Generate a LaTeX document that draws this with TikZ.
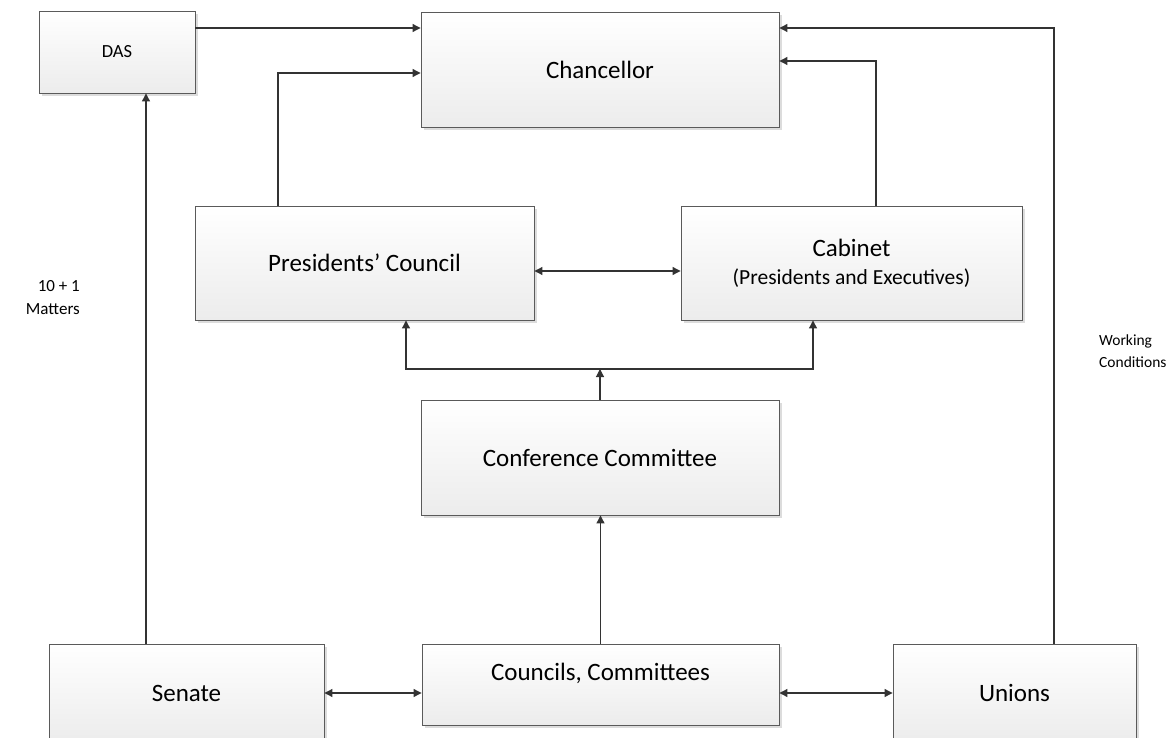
\documentclass[tikz,border=0pt]{standalone}
\usepackage{fontspec}
\setmainfont{Carlito}
\usetikzlibrary{arrows.meta,shadows}
\definecolor{boxline}{HTML}{5A5A5A}
\definecolor{arrline}{HTML}{333333}
\definecolor{boxbottom}{HTML}{ECECEC}
\definecolor{shadowcol}{HTML}{DCDCDC}
\begin{document}
\begin{tikzpicture}[x=1pt,y=-1pt,
  box/.style={draw=boxline, line width=0.9pt, top color=white, bottom color=boxbottom,
    drop shadow={shadow xshift=3pt, shadow yshift=-3pt, fill=shadowcol, opacity=1},
    inner sep=0pt, align=center, font=\fontsize{25}{30}\selectfont},
  arr/.style={draw=arrline, line width=1.1pt, -{Triangle[length=8pt,width=8pt]}},
  darr/.style={draw=arrline, line width=1.1pt, {Triangle[length=8pt,width=8pt]}-{Triangle[length=8pt,width=8pt]}},
  lbl/.style={font=\fontsize{17}{23}\selectfont, inner sep=0pt}]
\useasboundingbox (0,0) rectangle (1170,738);
% boxes
\node[box, minimum width=156pt, minimum height=82pt, font=\fontsize{18.5}{22}\selectfont] (das) at (117,52) {DAS};
\node[box, minimum width=358pt, minimum height=115pt] (chan) at (600,69.5) {Chancellor};
\node[box, minimum width=339pt, minimum height=114pt] (pc) at (364.5,263) {Presidents’ Council};
\node[box, minimum width=341pt, minimum height=114pt] (cab) at (851.5,263) {Cabinet\\[-2pt]{\fontsize{21.5}{26}\selectfont (Presidents and Executives)}};
\node[box, minimum width=358pt, minimum height=115pt] (conf) at (600,457.5) {Conference Committee};
\node[box, minimum width=357pt, minimum height=81pt, font=\fontsize{25}{25}\selectfont] (coun) at (600.5,684.5) {Councils, Committees\\\mbox{}};
\node[box, minimum width=275pt, minimum height=98pt] (sen) at (186.5,693) {Senate};
\node[box, minimum width=243pt, minimum height=98pt] (uni) at (1014.5,693) {Unions};
% labels
\node[lbl, align=right, anchor=east] (matters) at (80,298) {10 + 1\\Matters};
\node[lbl, align=left, anchor=west, font=\fontsize{15.5}{22}\selectfont] (working) at (1099,351) {Working\\Conditions};
% connectors
\coordinate (j) at (600,369);
\draw[arr] ([yshift=24pt]das.east) -- ([yshift=24pt]das.east -| chan.west);
\draw[arr] ([xshift=-86.5pt]pc.north) |- ([yshift=-3.5pt]chan.west);
\draw[arr] ([xshift=24.5pt]cab.north) |- ([yshift=8.5pt]chan.east);
\draw[arr] ([xshift=39.5pt]uni.north) |- ([yshift=41.5pt]chan.east);
\draw[arr] ([xshift=-40.5pt]sen.north) -- ([xshift=-40.5pt]sen.north |- das.south);
\draw[darr] ([yshift=-8pt]pc.east) -- ([yshift=-8pt]pc.east -| cab.west);
\draw[arr] (conf.north) -- (j);
\draw[arr] (j) -| ([xshift=41.5pt]pc.south);
\draw[arr] (j) -| ([xshift=-38.5pt]cab.south);
\draw[arr] (coun.north) -- (coun.north |- conf.south);
\draw[darr] (sen.east) -- (sen.east -| coun.west);
\draw[darr] (coun.east |- uni.west) -- (uni.west);
\end{tikzpicture}
\end{document}
